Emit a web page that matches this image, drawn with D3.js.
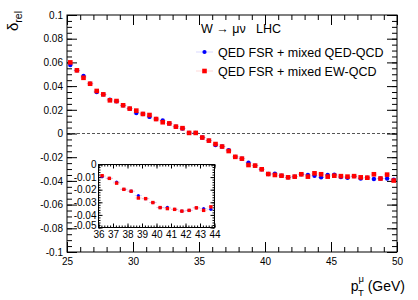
<!DOCTYPE html>
<html>
<head>
<meta charset="utf-8">
<script src="https://cdn.jsdelivr.net/npm/d3@7"></script>
<style>
  body { margin: 0; background: #fff; }
  svg { display: block; font-family: "Liberation Sans", Arial, sans-serif; }
  .axis text { fill: #000; }
  .axis line { stroke: #000; }
  .axis path { display: none; }
</style>
</head>
<body>
<div id="chart"></div>
<script>
// bin centres (GeV)
const ptCenters = [25.25, 25.75, 26.25, 26.75, 27.25, 27.75, 28.25, 28.75, 29.25, 29.75,
  30.25, 30.75, 31.25, 31.75, 32.25, 32.75, 33.25, 33.75, 34.25, 34.75,
  35.25, 35.75, 36.25, 36.75, 37.25, 37.75, 38.25, 38.75, 39.25, 39.75,
  40.25, 40.75, 41.25, 41.75, 42.25, 42.75, 43.25, 43.75, 44.25, 44.75,
  45.25, 45.75, 46.25, 46.75, 47.25, 47.75, 48.25, 48.75, 49.25, 49.75];

// QED FSR + mixed QED-QCD (blue)
const qedQcd = [0.0578, 0.0533, 0.0485, 0.0420, 0.0350, 0.0330, 0.0285, 0.0272, 0.0238, 0.0210,
  0.0173, 0.0165, 0.0140, 0.0122, 0.0110, 0.0085, 0.0058, 0.0042, 0.0005, 0.0005,
  -0.0034, -0.0060, -0.0097, -0.0110, -0.0140, -0.0197, -0.0212, -0.0246, -0.0271, -0.0302,
  -0.0342, -0.0340, -0.0356, -0.0370, -0.0364, -0.0344, -0.0350, -0.0356, -0.0370, -0.0350,
  -0.0348, -0.0368, -0.0373, -0.0360, -0.0380, -0.0373, -0.0384, -0.0380, -0.0380, -0.0390];

// QED FSR + mixed EW-QCD (red)
const ewQcd = [0.0600, 0.0533, 0.0470, 0.0420, 0.0359, 0.0330, 0.0280, 0.0274, 0.0238, 0.0210,
  0.0193, 0.0165, 0.0156, 0.0122, 0.0095, 0.0085, 0.0058, 0.0045, 0.0005, 0.0005,
  -0.0034, -0.0060, -0.0089, -0.0110, -0.0148, -0.0197, -0.0212, -0.0266, -0.0271, -0.0302,
  -0.0342, -0.0350, -0.0356, -0.0370, -0.0364, -0.0344, -0.0364, -0.0336, -0.0344, -0.0364,
  -0.0356, -0.0360, -0.0364, -0.0360, -0.0370, -0.0373, -0.0344, -0.0380, -0.0347, -0.0397];

const xTicks = [25, 30, 35, 40, 45, 50];
const yTicks = [0.1, 0.08, 0.06, 0.04, 0.02, 0, -0.02, -0.04, -0.06, -0.08, -0.1];
const insetXTicks = [36, 37, 38, 39, 40, 41, 42, 43, 44];
const insetYTicks = [0, -0.01, -0.02, -0.03, -0.04, -0.05];

const legendLabels = ['QED FSR + mixed QED-QCD', 'QED FSR + mixed EW-QCD'];

const binHalf = 0.25;
const blue = '#0000ff', red = '#ff0000';

const width = 418, height = 300;
const frame = { left: 67, right: 397, top: 15, bottom: 252 };

const svg = d3.select('#chart').append('svg')
  .attr('width', width).attr('height', height);

const x = d3.scaleLinear().domain([25, 50]).range([frame.left, frame.right]);
const y = d3.scaleLinear().domain([-0.1, 0.1]).range([frame.bottom, frame.top]);

const fmt = d => d === 0 ? '0' : String(+d.toFixed(3));

// ROOT style axes: ticks on all four sides, pointing inward
function drawAxes(g, xs, ys, opt) {
  const [x0, x1] = xs.range(), [y0, y1] = ys.range();
  const ax = g.append('g').attr('class', 'axis').style('font-size', opt.font + 'px');
  ax.append('g').attr('transform', `translate(0,${y0})`)
    .call(d3.axisBottom(xs).tickValues(opt.xMinor).tickSize(-opt.minor).tickFormat(''));
  ax.append('g').attr('transform', `translate(0,${y0})`)
    .call(d3.axisBottom(xs).tickValues(opt.xMajor).tickSize(-opt.major).tickPadding(opt.xPad).tickFormat(fmt));
  ax.append('g').attr('transform', `translate(0,${y1})`)
    .call(d3.axisTop(xs).tickValues(opt.xMinor).tickSize(-opt.minor).tickFormat(''));
  ax.append('g').attr('transform', `translate(0,${y1})`)
    .call(d3.axisTop(xs).tickValues(opt.xMajor).tickSize(-opt.major).tickFormat(''));
  ax.append('g').attr('transform', `translate(${x0},0)`)
    .call(d3.axisLeft(ys).tickValues(opt.yMinor).tickSize(-opt.minor).tickFormat(''));
  ax.append('g').attr('transform', `translate(${x0},0)`)
    .call(d3.axisLeft(ys).tickValues(opt.yMajor).tickSize(-opt.major).tickPadding(opt.yPad).tickFormat(fmt));
  ax.append('g').attr('transform', `translate(${x1},0)`)
    .call(d3.axisRight(ys).tickValues(opt.yMinor).tickSize(-opt.minor).tickFormat(''));
  ax.append('g').attr('transform', `translate(${x1},0)`)
    .call(d3.axisRight(ys).tickValues(opt.yMajor).tickSize(-opt.major).tickFormat(''));
  ax.selectAll('line').attr('stroke-width', opt.lw);
  g.append('rect')
    .attr('x', x0).attr('y', y1).attr('width', x1 - x0).attr('height', y0 - y1)
    .attr('fill', 'none').attr('stroke', '#000').attr('stroke-width', opt.lw);
}

function drawPoints(g, xs, ys, xv, vals, color, shape, size) {
  // faint bin-width bars
  g.append('g').selectAll('line').data(xv).enter().append('line')
    .attr('x1', (d) => xs(d - binHalf)).attr('x2', (d) => xs(d + binHalf))
    .attr('y1', (d, i) => ys(vals[i])).attr('y2', (d, i) => ys(vals[i]))
    .attr('stroke', color).attr('stroke-opacity', 0.15).attr('stroke-width', 1);
  if (shape === 'circle') {
    g.append('g').selectAll('circle').data(xv).enter().append('circle')
      .attr('cx', (d) => xs(d)).attr('cy', (d, i) => ys(vals[i]))
      .attr('r', size / 2).attr('fill', color);
  } else {
    g.append('g').selectAll('rect').data(xv).enter().append('rect')
      .attr('x', (d) => xs(d) - size / 2).attr('y', (d, i) => ys(vals[i]) - size / 2)
      .attr('width', size).attr('height', size).attr('fill', color);
  }
}

const main = svg.append('g');

// zero line
main.append('line')
  .attr('x1', x(25)).attr('x2', x(50)).attr('y1', y(0)).attr('y2', y(0))
  .attr('stroke', '#555').attr('stroke-width', 1).attr('stroke-dasharray', '3,2');

drawAxes(main, x, y, {
  font: 11.5, major: 10, minor: 5, lw: 1, xPad: 6, yPad: 4,
  xMajor: xTicks, xMinor: d3.range(25, 50.01, 1),
  yMajor: yTicks, yMinor: d3.range(-0.1, 0.1001, 0.005)
});

drawPoints(main, x, y, ptCenters, qedQcd, blue, 'circle', 4.4);
drawPoints(main, x, y, ptCenters, ewQcd, red, 'rect', 4.6);

// inset
const ix = d3.scaleLinear().domain([36, 44]).range([98.5, 214.5]);
const iy = d3.scaleLinear().domain([-0.05, 0]).range([227.5, 164.5]);
const inset = svg.append('g');
inset.append('rect').attr('x', 98.5).attr('y', 164.5).attr('width', 116).attr('height', 63).attr('fill', '#fff');
drawAxes(inset, ix, iy, {
  font: 6.5, major: 4, minor: 2, lw: 1, xPad: 3, yPad: 2,
  xMajor: insetXTicks, xMinor: d3.range(36, 44.001, 0.2),
  yMajor: insetYTicks, yMinor: d3.range(-0.05, 0.0001, 0.002)
});
inset.selectAll('.axis text').attr('fill', '#333');
// keep the lowest y label clear of the first x label
inset.selectAll('.axis text').filter(d => d === -0.05).attr('dy', '0.1em');
const inX = ptCenters.filter(d => d > 36 && d < 44);
const firstIn = ptCenters.indexOf(inX[0]);
drawPoints(inset, ix, iy, inX, qedQcd.slice(firstIn, firstIn + inX.length), blue, 'circle', 3.2);
drawPoints(inset, ix, iy, inX, ewQcd.slice(firstIn, firstIn + inX.length), red, 'rect', 3.4);

// legend
const leg = svg.append('g').style('font-size', '12.5px');
leg.append('text').attr('x', 201).attr('y', 33).text('W \u2192 \u03bc\u03bd   LHC')
  .attr('xml:space', 'preserve').style('white-space', 'pre');
legendLabels.forEach((lab, i) => {
  const ly = 52 + i * 19;
  leg.append('line').attr('x1', 196).attr('x2', 213).attr('y1', ly).attr('y2', ly)
    .attr('stroke', i === 0 ? blue : red).attr('stroke-opacity', 0.15);
  if (i === 0) leg.append('circle').attr('cx', 204.5).attr('cy', ly).attr('r', 2.1).attr('fill', blue);
  else leg.append('rect').attr('x', 202.2).attr('y', ly - 2.3).attr('width', 4.6).attr('height', 4.6).attr('fill', red);
  leg.append('text').attr('x', 218).attr('y', ly + 5).text(lab);
});

// axis titles
const yt = svg.append('text').attr('transform', 'translate(18,31) rotate(-90)').style('font-size', '15px');
yt.append('tspan').text('\u03b4');
yt.append('tspan').attr('dy', 4).style('font-size', '10.5px').text('rel');

const xt = svg.append('text').attr('x', 405).attr('y', 291).attr('text-anchor', 'end').style('font-size', '14px');
xt.append('tspan').text('p');
xt.append('tspan').attr('dy', -9).style('font-size', '9.5px').text('\u03bc');
xt.append('tspan').attr('dx', -6).attr('dy', 14).style('font-size', '9.5px').text('T');
xt.append('tspan').attr('dy', -5).text(' (GeV)').style('white-space', 'pre');
</script>
</body>
</html>
